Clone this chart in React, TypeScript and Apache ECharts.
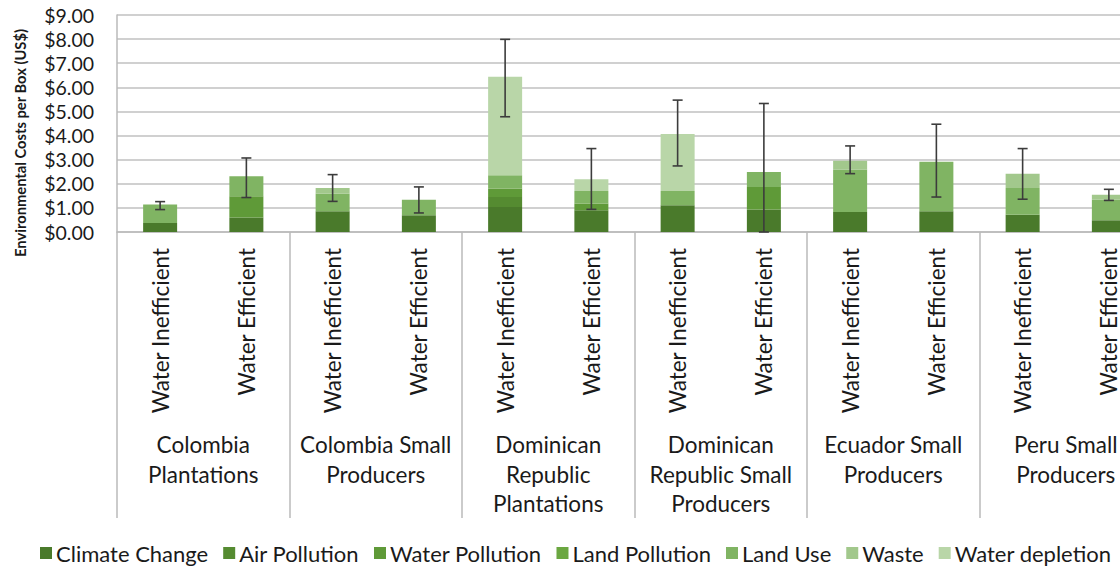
import React, { useEffect, useRef } from "react";
import * as echarts from "echarts";

const categories = [
  "Water Inefficient", "Water Efficient",
  "Water Inefficient", "Water Efficient",
  "Water Inefficient", "Water Efficient",
  "Water Inefficient", "Water Efficient",
  "Water Inefficient", "Water Efficient",
  "Water Inefficient", "Water Efficient",
];
const groups = [
  "Colombia\nPlantations",
  "Colombia Small\nProducers",
  "Dominican\nRepublic\nPlantations",
  "Dominican\nRepublic Small\nProducers",
  "Ecuador Small\nProducers",
  "Peru Small\nProducers",
];
const climateChange = [0.37, 0.6, 0.86, 0.69, 1.04, 0.9, 1.11, 0.93, 0.83, 0.86, 0.72, 0.49];
const airPollution = [0, 0, 0, 0, 0.41, 0, 0, 0, 0, 0, 0, 0];
const waterPollution = [0, 0.88, 0, 0, 0.35, 0.28, 0, 0.94, 0, 0, 0, 0];
const landPollution = [0, 0, 0, 0, 0, 0, 0, 0, 0, 0, 0, 0];
const landUse = [0.77, 0.83, 0.73, 0.65, 0.55, 0.52, 0.59, 0.62, 1.76, 2.05, 1.11, 0.86];
const waste = [0, 0, 0.24, 0, 0, 0, 0, 0, 0.36, 0, 0.59, 0.2];
const waterDepletion = [0, 0, 0, 0, 4.09, 0.49, 2.36, 0, 0, 0, 0, 0];
const errorLow = [0.93, 1.43, 1.27, 0.79, 4.78, 0.94, 2.74, 0, 2.42, 1.45, 1.36, 1.31];
const errorHigh = [1.26, 3.07, 2.38, 1.87, 7.99, 3.46, 5.47, 5.33, 3.57, 4.47, 3.46, 1.77];
const yTicks = { min: 0, max: 9, interval: 1 };

const seriesDefs = [
  { name: "Climate Change", data: climateChange, color: "#4a7a2b" },
  { name: "Air Pollution", data: airPollution, color: "#558b31" },
  { name: "Water Pollution", data: waterPollution, color: "#5f9a38" },
  { name: "Land Pollution", data: landPollution, color: "#6ba741" },
  { name: "Land Use", data: landUse, color: "#80b463" },
  { name: "Waste", data: waste, color: "#a2c88c" },
  { name: "Water depletion", data: waterDepletion, color: "#b9d6a8" },
];

const FONT = "Lato";
const TEXT = "#1a1a1a";

export default function App() {
  const ref = useRef<HTMLDivElement>(null);
  useEffect(() => {
    if (!ref.current) return;
    const chart = echarts.init(ref.current, undefined, { renderer: "svg" });
    const option: any = {
      animation: false,
      textStyle: { fontFamily: FONT },
      grid: { left: 117, top: 15, right: 8, bottom: 336, containLabel: false },
      legend: {
        left: 40,
        top: 542,
        padding: 0,
        itemWidth: 12,
        itemHeight: 12,
        itemGap: 15,
        icon: "rect",
        textStyle: { fontFamily: FONT, fontSize: 22, color: TEXT, padding: [0, 0, 0, -1] },
        data: seriesDefs.map((s) => s.name),
      },
      xAxis: [
        {
          type: "category",
          data: categories,
          position: "bottom",
          axisLine: { show: true, lineStyle: { color: "#bababa", width: 1.5 } },
          axisTick: { show: false },
          axisLabel: {
            interval: 0,
            rotate: 90,
            margin: 16,
            fontFamily: FONT,
            fontSize: 22.5,
            color: TEXT,
          },
        },
        {
          type: "category",
          data: groups,
          position: "bottom",
          axisLine: { show: false },
          axisTick: {
            show: true,
            interval: 0,
            length: 286,
            lineStyle: { color: "#bababa", width: 1.5 },
          },
          axisLabel: {
            interval: 0,
            margin: 198,
            verticalAlign: "top",
            fontFamily: FONT,
            fontSize: 22.5,
            lineHeight: 29.5,
            color: TEXT,
          },
        },
      ],
      yAxis: {
        type: "value",
        min: yTicks.min,
        max: yTicks.max,
        interval: yTicks.interval,
        axisLine: { show: true, lineStyle: { color: "#bababa", width: 1.5 } },
        axisTick: { show: false },
        splitLine: { lineStyle: { color: "#c0c0c0", width: 1.5 } },
        axisLabel: {
          margin: 23,
          fontFamily: FONT,
          fontSize: 19.5,
          lineHeight: 20,
          color: TEXT,
          formatter: (v: number) => "$" + v.toFixed(2),
        },
      },
      graphic: [
        {
          type: "text",
          x: 20,
          y: 143,
          rotation: Math.PI / 2,
          scaleX: 0.92,
          style: {
            text: "Environmental Costs per Box (US$)",
            fontFamily: FONT,
            fontWeight: "bold",
            fontSize: 16,
            fill: TEXT,
            textAlign: "center",
            textVerticalAlign: "middle",
          },
        },
      ],
      series: [
        ...seriesDefs.map((s) => ({
          name: s.name,
          type: "bar",
          stack: "total",
          xAxisIndex: 0,
          barWidth: 34,
          itemStyle: { color: s.color },
          data: s.data,
        })),
        {
          type: "custom",
          name: "error",
          xAxisIndex: 0,
          z: 10,
          data: errorLow.map((lo, i) => [i, lo, errorHigh[i]]),
          encode: { x: 0, y: [1, 2] },
          renderItem: (params: any, api: any) => {
            const i = api.value(0);
            const lo = api.coord([i, api.value(1)]);
            const hi = api.coord([i, api.value(2)]);
            const w = 5;
            const style = { stroke: "#3c3c3c", lineWidth: 1.6 };
            return {
              type: "group",
              children: [
                { type: "line", shape: { x1: hi[0], y1: hi[1], x2: lo[0], y2: lo[1] }, style },
                { type: "line", shape: { x1: hi[0] - w, y1: hi[1], x2: hi[0] + w, y2: hi[1] }, style },
                { type: "line", shape: { x1: lo[0] - w, y1: lo[1], x2: lo[0] + w, y2: lo[1] }, style },
              ],
            };
          },
        },
      ],
    };
    chart.setOption(option);
    return () => chart.dispose();
  }, []);
  return (
    <div style={{ position: "fixed", left: 0, top: 0, width: 1120, height: 568, overflow: "hidden", background: "#fff" }}>
      <div ref={ref} style={{ width: 1160, height: 568 }} />
    </div>
  );
}
